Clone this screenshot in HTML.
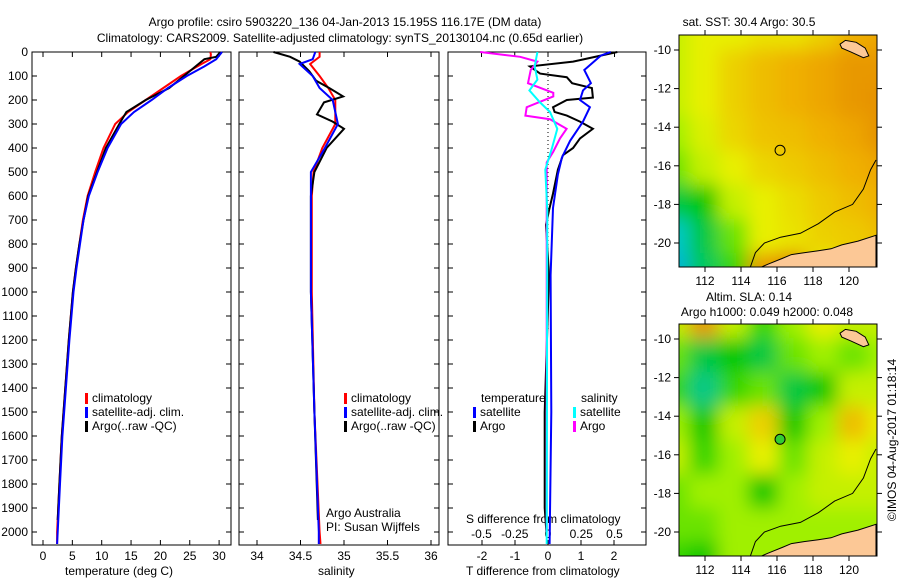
<!DOCTYPE html>
<html><head><meta charset="utf-8"><style>
body{margin:0;background:#fff}
svg{font-family:"Liberation Sans",sans-serif;font-size:12px}
</style></head><body>
<svg id="s" width="900" height="580" xmlns="http://www.w3.org/2000/svg">
<text x="345" y="26" text-anchor="middle">Argo profile: csiro 5903220_136 04-Jan-2013 15.195S 116.17E (DM data)</text>
<text x="340" y="42" text-anchor="middle">Climatology: CARS2009. Satellite-adjusted climatology: synTS_20130104.nc (0.65d earlier)</text>
<text x="749" y="26" text-anchor="middle">sat. SST: 30.4 Argo: 30.5</text>
<text x="749" y="301" text-anchor="middle">Altim. SLA: 0.14</text>
<text x="767" y="316" text-anchor="middle">Argo h1000: 0.049 h2000: 0.048</text>
<text transform="translate(896,440) rotate(-90)" text-anchor="middle">©IMOS 04-Aug-2017 01:18:14</text>
<text x="65" y="575" text-anchor="start">temperature (deg C)</text>
<text x="318" y="575">salinity</text>
<text x="466" y="575">T difference from climatology</text>
<text x="466" y="523">S difference from climatology</text>
<text x="326" y="517">Argo Australia</text>
<text x="326" y="531">PI: Susan Wijffels</text>
<g id="g"></g>
</svg>
<script>
// depths
const depthTicks=[0,100,200,300,400,500,600,700,800,900,1000,1100,1200,1300,1400,1500,1600,1700,1800,1900,2000];
const tempTicks=[0,5,10,15,20,25,30];
const salTicks=[34,34.5,35,35.5,36];
const salTickLabels=["34","34.5","35","35.5","36"];
const tdTicks=[-2,-1,0,1,2];
const sdTicks=[-0.5,-0.25,0,0.25,0.5];
const sdTickLabels=["-0.5","-0.25","0","0.25","0.5"];
const tClimD=[0,10,30,50,100,150,200,250,300,400,500,600,700,800,900,1000,1200,1400,1600,1800,2000,2050];
const tClimV=[28.5,28.6,28.5,27,23.5,20.5,17.5,14.5,12.3,10.3,8.9,7.6,6.8,6.2,5.6,5.1,4.4,3.8,3.2,2.8,2.4,2.4];
const tSatD=[0,30,60,100,150,200,250,300,400,500,600,700,800,900,1000,1200,1400,1600,1800,2000,2050];
const tSatV=[30.5,29.5,27.5,24.5,21.3,18.5,15.5,13.3,11,9.3,7.8,6.9,6.3,5.7,5.2,4.5,3.9,3.3,2.9,2.5,2.4];
const tArgoD=[0,20,30,60,100,150,200,250,300,400,500,600,700,800,900,1000,1200,1400,1600,1800,1950];
const tArgoV=[30.2,29.5,27.5,26,24,21.5,17.5,14.2,13,10.7,9.2,7.7,6.9,6.2,5.6,5.1,4.4,3.8,3.2,2.8,2.5];
const sClimD=[0,20,50,100,150,200,300,400,500,600,1000,1500,2000,2050];
const sClimV=[34.72,34.72,34.61,34.72,34.82,34.9,34.9,34.75,34.65,34.63,34.63,34.66,34.72,34.73];
const sSatD=[0,30,50,100,150,200,300,400,500,1000,1500,2000,2050];
const sSatV=[34.67,34.64,34.49,34.64,34.72,34.87,34.93,34.78,34.62,34.62,34.66,34.71,34.71];
const sArgoD=[0,20,40,80,120,150,185,210,260,290,320,400,500,600,1000,1500,1950];
const sArgoV=[34.19,34.38,34.49,34.6,34.68,34.83,34.99,34.77,34.69,34.87,35.0,34.8,34.66,34.62,34.62,34.66,34.7];
const dtSatD=[0,15,75,130,160,200,230,290,370,440,510,650,930,1500,2050];
const dtSatV=[1.9,1.6,1.1,1.3,1.06,0.97,1.27,1.06,0.67,0.42,0.3,0.15,0.08,0.1,0.05];
const dtArgoD=[0,40,60,90,105,130,150,190,200,230,250,265,290,320,360,400,430,490,590,660,720,930,1500,1900,2000];
const dtArgoV=[2.1,0.76,-0.55,-0.24,0.57,0.73,1.33,1.36,0.57,0.15,0.2,0.57,0.97,1.36,0.97,0.76,0.45,0.3,0.15,0.03,-0.06,0.03,-0.1,-0.1,-0.05];
const dsArgoD=[0,20,40,75,130,170,185,230,265,280,320,360,415,460,540,2000];
const dsArgoV=[-0.51,-0.21,-0.08,-0.13,-0.15,0.04,0.04,-0.16,-0.17,0.015,0.14,0.09,0.04,-0.01,-0.01,-0.01];
const dsSatD=[0,60,115,160,210,250,320,400,490,660,2050];
const dsSatV=[-0.08,-0.1,-0.08,-0.14,-0.06,0.015,0.07,0.03,-0.02,-0.005,-0.01];
const sstGrid=[
[.55,.6,.6,.62,.62,.65,.7,.72],
[.55,.6,.65,.68,.7,.72,.75,.75],
[.55,.6,.65,.68,.7,.72,.75,.76],
[.5,.58,.64,.67,.68,.7,.72,.76],
[.45,.55,.6,.64,.66,.68,.7,.72],
[.3,.35,.55,.6,.63,.66,.68,.7],
[.2,.3,.45,.6,.62,.65,.66,.68],
[.15,.28,.4,.75,.8,.6,.65,.65]];
const slaGrid=[
[.55,.75,.55,.4,.5,.6,.55,.55],
[.45,.3,.35,.3,.45,.5,.45,.5],
[.4,.25,.4,.45,.3,.35,.55,.55],
[.5,.35,.55,.65,.35,.5,.68,.6],
[.55,.4,.5,.6,.45,.55,.6,.55],
[.45,.5,.5,.35,.5,.55,.55,.55],
[.45,.45,.5,.5,.5,.5,.5,.5],
[.4,.35,.5,.5,.5,.5,.5,.5]];
const lonTicks=[112,114,116,118,120];
const latTicks=[-10,-12,-14,-16,-18,-20];
const coastLon=[115,115.5,116.3,116.8,117.5,118.3,119,119.6,120.5,121.5,121.5,115];
const coastLat=[-21.3,-21.1,-20.8,-20.6,-20.5,-20.4,-20.3,-20.1,-19.9,-19.6,-21.3,-21.3];
const isoLon=[114.5,114.8,115.3,116.2,117.3,118.3,119.2,120.2,120.8,121.2,121.5];
const isoLat=[-21.3,-20.5,-20,-19.7,-19.5,-19,-18.4,-18,-17.2,-16.2,-15.7];
const islLon=[119.5,119.8,120.4,120.9,121.1,120.8,120.1,119.6];
const islLat=[-9.7,-9.5,-9.6,-9.9,-10.3,-10.4,-10.1,-9.9];
const argoLon=116.17, argoLat=-15.195;

const NS="http://www.w3.org/2000/svg";
const G=document.getElementById('g');
function mk(t,a,p){const e=document.createElementNS(NS,t);for(const k in a)e.setAttribute(k,a[k]);(p||G).appendChild(e);return e;}
const Y0=52,YS=0.24,YB=545;
const yD=d=>Y0+d*YS;
function line(xs,ds,fx,col,w,name){
  const pts=xs.map((v,i)=>fx(v).toFixed(1)+','+yD(ds[i]).toFixed(1)).join(' ');
  const p=mk('polyline',{points:pts,fill:'none',stroke:col,'stroke-width':w});
  
  
}
function frame(x1,x2,name){
  const r=mk('rect',{x:x1,y:Y0,width:x2-x1,height:YB-Y0,fill:'none',stroke:'#000','stroke-width':1});
  
  
}
function yTicks(x1,x2,labels){
  depthTicks.forEach(d=>{const y=yD(d);
    mk('line',{x1:x1,x2:x1+5,y1:y,y2:y,stroke:'#000'});mk('line',{x1:x2-5,x2:x2,y1:y,y2:y,stroke:'#000'});
    if(labels){const t=mk('text',{x:x1-4,y:y+4,'text-anchor':'end'});t.textContent=d;
      
      }
  });
}
function xTicks(vals,labs,fx,ytxt,top,bot){
  vals.forEach((v,i)=>{const x=fx(v);
    if(bot)mk('line',{x1:x,x2:x,y1:YB,y2:YB-5,stroke:'#000'});
    if(top)mk('line',{x1:x,x2:x,y1:Y0,y2:Y0+5,stroke:'#000'});
    const t=mk('text',{x:x,y:ytxt,'text-anchor':'middle'});t.textContent=labs[i];
    
    });
}
// panel 1
const fT=v=>43+v*5.87;
frame(32,231,'temperature-panel');yTicks(32,231,true);
xTicks(tempTicks,tempTicks.map(String),fT,560,true,true);
line(tClimV,tClimD,fT,'#f00',2,'temp-climatology-line');
line(tArgoV,tArgoD,fT,'#000',2,'temp-argo-line');
line(tSatV,tSatD,fT,'#00f',2,'temp-satellite-line');
// panel 2
const fS=v=>257+(v-34)*87;
frame(239,439,'salinity-panel');yTicks(239,439,false);
xTicks(salTicks,salTickLabels,fS,560,true,true);
line(sClimV,sClimD,fS,'#f00',2,'sal-climatology-line');
line(sArgoV,sArgoD,fS,'#000',2,'sal-argo-line');
line(sSatV,sSatD,fS,'#00f',2,'sal-satellite-line');
// panel 3
const fDT=v=>548+v*33, fDS=v=>548+v*133;
frame(448,646,'difference-panel');yTicks(448,646,false);
xTicks(tdTicks,tdTicks.map(String),fDT,560,false,true);
xTicks(sdTicks,sdTickLabels,fDS,538,true,false);
mk('line',{x1:548,x2:548,y1:Y0,y2:330,stroke:'#000','stroke-dasharray':'1,3'});
line(dtArgoV,dtArgoD,fDT,'#000',2,'tdiff-argo-line');
line(dtSatV,dtSatD,fDT,'#00f',2,'tdiff-satellite-line');
line(dsArgoV,dsArgoD,fDS,'#f0f',2,'sdiff-argo-line');
line(dsSatV,dsSatD,fDS,'#0ff',2,'sdiff-satellite-line');
// legends
function leg(x,y,col,txt){mk('rect',{x:x,y:y-9,width:3,height:11,fill:col});
  const t=mk('text',{x:x+7,y:y});t.textContent=txt;
  
  }
[[85,1],[344,1]].forEach(([x])=>{leg(x,402,'#f00','climatology');leg(x,416,'#00f','satellite-adj. clim.');leg(x,430,'#000','Argo(..raw -QC)');});
let t=mk('text',{x:481,y:402});t.textContent='temperature';
t=mk('text',{x:581,y:402});t.textContent='salinity';
leg(473,416,'#00f','satellite');leg(473,430,'#000','Argo');
leg(573,416,'#0ff','satellite');leg(573,430,'#f0f','Argo');
// maps
const cmS=[[0,[0,128,255]],[.2,[0,200,200]],[.35,[0,200,0]],[.5,[160,240,0]],[.6,[232,240,0]],[.7,[240,176,0]],[.8,[224,128,0]],[.9,[192,48,0]],[1,[160,0,0]]];
function cmap(v){for(let i=1;i<cmS.length;i++){if(v<=cmS[i][0]){const a=cmS[i-1],b=cmS[i],f=(v-a[0])/(b[0]-a[0]);
  return 'rgb('+a[1].map((c,j)=>Math.round(c+(b[1][j]-c)*f)).join(',')+')';}}return 'rgb(160,0,0)';}
function map(top,grid,name,filled,blurId){
  const L=679,R=877,B=top+232;
  const fx=lon=>705+(lon-112)*18, fy=lat=>top+15+(-10-lat)*19.3;
  const defs=mk('defs',{});
  const cp=mk('clipPath',{id:'c'+blurId},defs);mk('rect',{x:L,y:top,width:R-L,height:B-top},cp);
  const fl=mk('filter',{id:'f'+blurId,x:'-10%',y:'-10%',width:'120%',height:'120%'},defs);mk('feGaussianBlur',{stdDeviation:9},fl);
  const cg=mk('g',{'clip-path':'url(#c'+blurId+')'});
  mk('rect',{x:L,y:top,width:R-L,height:B-top,fill:cmap(grid[7][7])},cg);
  const bg=mk('g',{filter:'url(#f'+blurId+')'},cg);
  const nr=grid.length,nc=grid[0].length,cw=(R-L+40)/nc,ch=(B-top+40)/nr;
  grid.forEach((row,r)=>row.forEach((v,c)=>{const e=mk('rect',{x:L-20+c*cw,y:top-20+r*ch,width:cw+1,height:ch+1,fill:cmap(v)},bg);
    
    }));
  const pp=(lo,la)=>lo.map((v,i)=>fx(v).toFixed(1)+','+fy(la[i]).toFixed(1)).join(' ');
  mk('polygon',{points:pp(coastLon,coastLat),fill:'#fcc896',stroke:'#000','stroke-width':1},cg);
  mk('polygon',{points:pp(islLon,islLat),fill:'#fcc896',stroke:'#000','stroke-width':1},cg);
  mk('polyline',{points:pp(isoLon,isoLat),fill:'none',stroke:'#000','stroke-width':1},cg);
  const r=mk('rect',{x:L,y:top,width:R-L,height:B-top,fill:'none',stroke:'#000'});
  
  
  lonTicks.forEach(l=>{const x=fx(l);mk('line',{x1:x,x2:x,y1:B,y2:B+5,stroke:'#000'});mk('line',{x1:x,x2:x,y1:top,y2:top-5,stroke:'#000'});
    const tt=mk('text',{x:x,y:B+18,'text-anchor':'middle'});tt.textContent=l;});
  latTicks.forEach(l=>{const y=fy(l);mk('line',{x1:L,x2:L-5,y1:y,y2:y,stroke:'#000'});mk('line',{x1:R,x2:R+5,y1:y,y2:y,stroke:'#000'});
    const tt=mk('text',{x:L-8,y:y+4,'text-anchor':'end'});tt.textContent=l;});
  const c=mk('circle',{cx:fx(argoLon),cy:fy(argoLat),r:5,fill:filled||'none',stroke:'#000'});
  
  
}
map(35,sstGrid,'sst-map',null,1);
map(324,slaGrid,'sla-map','#3c3',2);
</script>
</body></html>
